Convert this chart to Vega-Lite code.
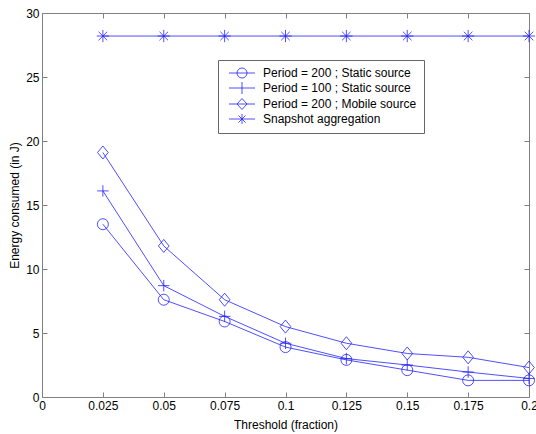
{
  "$schema": "https://vega.github.io/schema/vega-lite/v6.json",
  "autosize": {"type": "none"},
  "padding": {"left": 42, "top": 13, "right": 7, "bottom": 37},
  "width": 487,
  "height": 384,
  "background": "white",
  "config": {
    "font": "Liberation Sans",
    "view": {"stroke": null},
    "axis": {
      "grid": false,
      "domainColor": "#808080",
      "tickColor": "#808080",
      "tickSize": -5,
      "labelFontSize": 12,
      "labelColor": "black",
      "titleFontSize": 12,
      "titleFontWeight": "normal",
      "titleColor": "black",
      "labelFont": "Liberation Sans",
      "titleFont": "Liberation Sans"
    }
  },
  "data": {
    "values": [
      {"t": 0.025, "e": 13.5, "s": "Period = 200 ; Static source"},
      {"t": 0.05, "e": 7.6, "s": "Period = 200 ; Static source"},
      {"t": 0.075, "e": 5.9, "s": "Period = 200 ; Static source"},
      {"t": 0.1, "e": 3.9, "s": "Period = 200 ; Static source"},
      {"t": 0.125, "e": 2.9, "s": "Period = 200 ; Static source"},
      {"t": 0.15, "e": 2.1, "s": "Period = 200 ; Static source"},
      {"t": 0.175, "e": 1.3, "s": "Period = 200 ; Static source"},
      {"t": 0.2, "e": 1.3, "s": "Period = 200 ; Static source"},
      {"t": 0.025, "e": 16.1, "s": "Period = 100 ; Static source"},
      {"t": 0.05, "e": 8.7, "s": "Period = 100 ; Static source"},
      {"t": 0.075, "e": 6.3, "s": "Period = 100 ; Static source"},
      {"t": 0.1, "e": 4.2, "s": "Period = 100 ; Static source"},
      {"t": 0.125, "e": 3.0, "s": "Period = 100 ; Static source"},
      {"t": 0.15, "e": 2.5, "s": "Period = 100 ; Static source"},
      {"t": 0.175, "e": 1.95, "s": "Period = 100 ; Static source"},
      {"t": 0.2, "e": 1.45, "s": "Period = 100 ; Static source"},
      {"t": 0.025, "e": 19.1, "s": "Period = 200 ; Mobile source"},
      {"t": 0.05, "e": 11.8, "s": "Period = 200 ; Mobile source"},
      {"t": 0.075, "e": 7.6, "s": "Period = 200 ; Mobile source"},
      {"t": 0.1, "e": 5.5, "s": "Period = 200 ; Mobile source"},
      {"t": 0.125, "e": 4.2, "s": "Period = 200 ; Mobile source"},
      {"t": 0.15, "e": 3.4, "s": "Period = 200 ; Mobile source"},
      {"t": 0.175, "e": 3.1, "s": "Period = 200 ; Mobile source"},
      {"t": 0.2, "e": 2.3, "s": "Period = 200 ; Mobile source"},
      {"t": 0.025, "e": 28.2, "s": "Snapshot aggregation"},
      {"t": 0.05, "e": 28.2, "s": "Snapshot aggregation"},
      {"t": 0.075, "e": 28.2, "s": "Snapshot aggregation"},
      {"t": 0.1, "e": 28.2, "s": "Snapshot aggregation"},
      {"t": 0.125, "e": 28.2, "s": "Snapshot aggregation"},
      {"t": 0.15, "e": 28.2, "s": "Snapshot aggregation"},
      {"t": 0.175, "e": 28.2, "s": "Snapshot aggregation"},
      {"t": 0.2, "e": 28.2, "s": "Snapshot aggregation"}
    ]
  },
  "resolve": {"axis": {"x": "independent", "y": "independent"}, "scale": {"shape": "independent"}},
  "layer": [
    {
      "mark": {"type": "line", "stroke": "#2222ff", "strokeWidth": 0.8},
      "encoding": {
        "x": {"field": "t", "type": "quantitative",
          "scale": {"domain": [0, 0.2], "nice": false},
          "axis": {"orient": "bottom", "title": "Threshold (fraction)",
            "values": [0, 0.025, 0.05, 0.075, 0.1, 0.125, 0.15, 0.175, 0.2],
            "format": ".3~g", "labelPadding": 8, "titlePadding": 8, "labelFlush": false}},
        "y": {"field": "e", "type": "quantitative",
          "scale": {"domain": [0, 30], "nice": false},
          "axis": {"orient": "left", "title": "Energy consumed (in J)",
            "values": [0, 5, 10, 15, 20, 25, 30], "labelPadding": 8, "titlePadding": 4}},
        "detail": {"field": "s"}
      }
    },
    {
      "mark": {"type": "point", "filled": false, "stroke": "#2222ff", "strokeWidth": 0.8, "opacity": 1},
      "encoding": {
        "x": {"field": "t", "type": "quantitative",
          "axis": {"orient": "top", "labels": false, "title": null,
            "values": [0, 0.025, 0.05, 0.075, 0.1, 0.125, 0.15, 0.175, 0.2]}},
        "y": {"field": "e", "type": "quantitative",
          "axis": {"orient": "right", "labels": false, "title": null,
            "values": [0, 5, 10, 15, 20, 25, 30]}},
        "shape": {"field": "s", "type": "nominal", "legend": null,
          "scale": {
            "domain": ["Period = 200 ; Static source", "Period = 100 ; Static source", "Period = 200 ; Mobile source", "Snapshot aggregation"],
            "range": ["M1,0A1,1 0 1,1 -1,0A1,1 0 1,1 1,0", "M-1,0H1M0,-1V1", "M0,-1.1L0.9,0L0,1.1L-0.9,0Z", "M0,-1V1M-1,0H1M-0.7,-0.7L0.7,0.7M-0.7,0.7L0.7,-0.7"]
          }
        },
        "size": {"field": "s", "type": "nominal", "legend": null,
          "scale": {
            "domain": ["Period = 200 ; Static source", "Period = 100 ; Static source", "Period = 200 ; Mobile source", "Snapshot aggregation"],
            "range": [121, 150, 130, 100]
          }
        }
      }
    },
    {
      "mark": {"type": "point", "filled": false, "stroke": "#2222ff", "strokeWidth": 0.8, "size": 0},
      "encoding": {
        "x": {"field": "t", "type": "quantitative", "axis": null},
        "y": {"field": "e", "type": "quantitative", "axis": null},
        "shape": {"field": "s", "type": "nominal",
          "scale": {
            "domain": ["Period = 200 ; Static source", "Period = 100 ; Static source", "Period = 200 ; Mobile source", "Snapshot aggregation"],
            "range": ["M-2.6,0H2.6M1,0A1,1 0 1,1 -1,0A1,1 0 1,1 1,0", "M-2.6,0H2.6M0,-1.2V1.2", "M-2.6,0H2.6M0,-1.1L1,0L0,1.1L-1,0Z", "M-2.6,0H2.6M0,-1V1M-0.7,-0.7L0.7,0.7M-0.7,0.7L0.7,-0.7"]
          },
          "legend": {
            "title": null,
            "orient": "none",
            "legendX": 176,
            "legendY": 47,
            "fillColor": "white",
            "strokeColor": "#666666",
            "padding": 7,
            "symbolOffset": 11,
            "labelOffset": 15,
            "rowPadding": 0,
            "labelFontSize": 12,
            "labelFont": "Liberation Sans",
            "labelColor": "black",
            "symbolSize": 100,
            "symbolOpacity": 1,
            "symbolStrokeColor": "#2222ff",
            "symbolStrokeWidth": 0.8,
            "symbolFillColor": "transparent"
          }
        }
      }
    }
  ]
}
